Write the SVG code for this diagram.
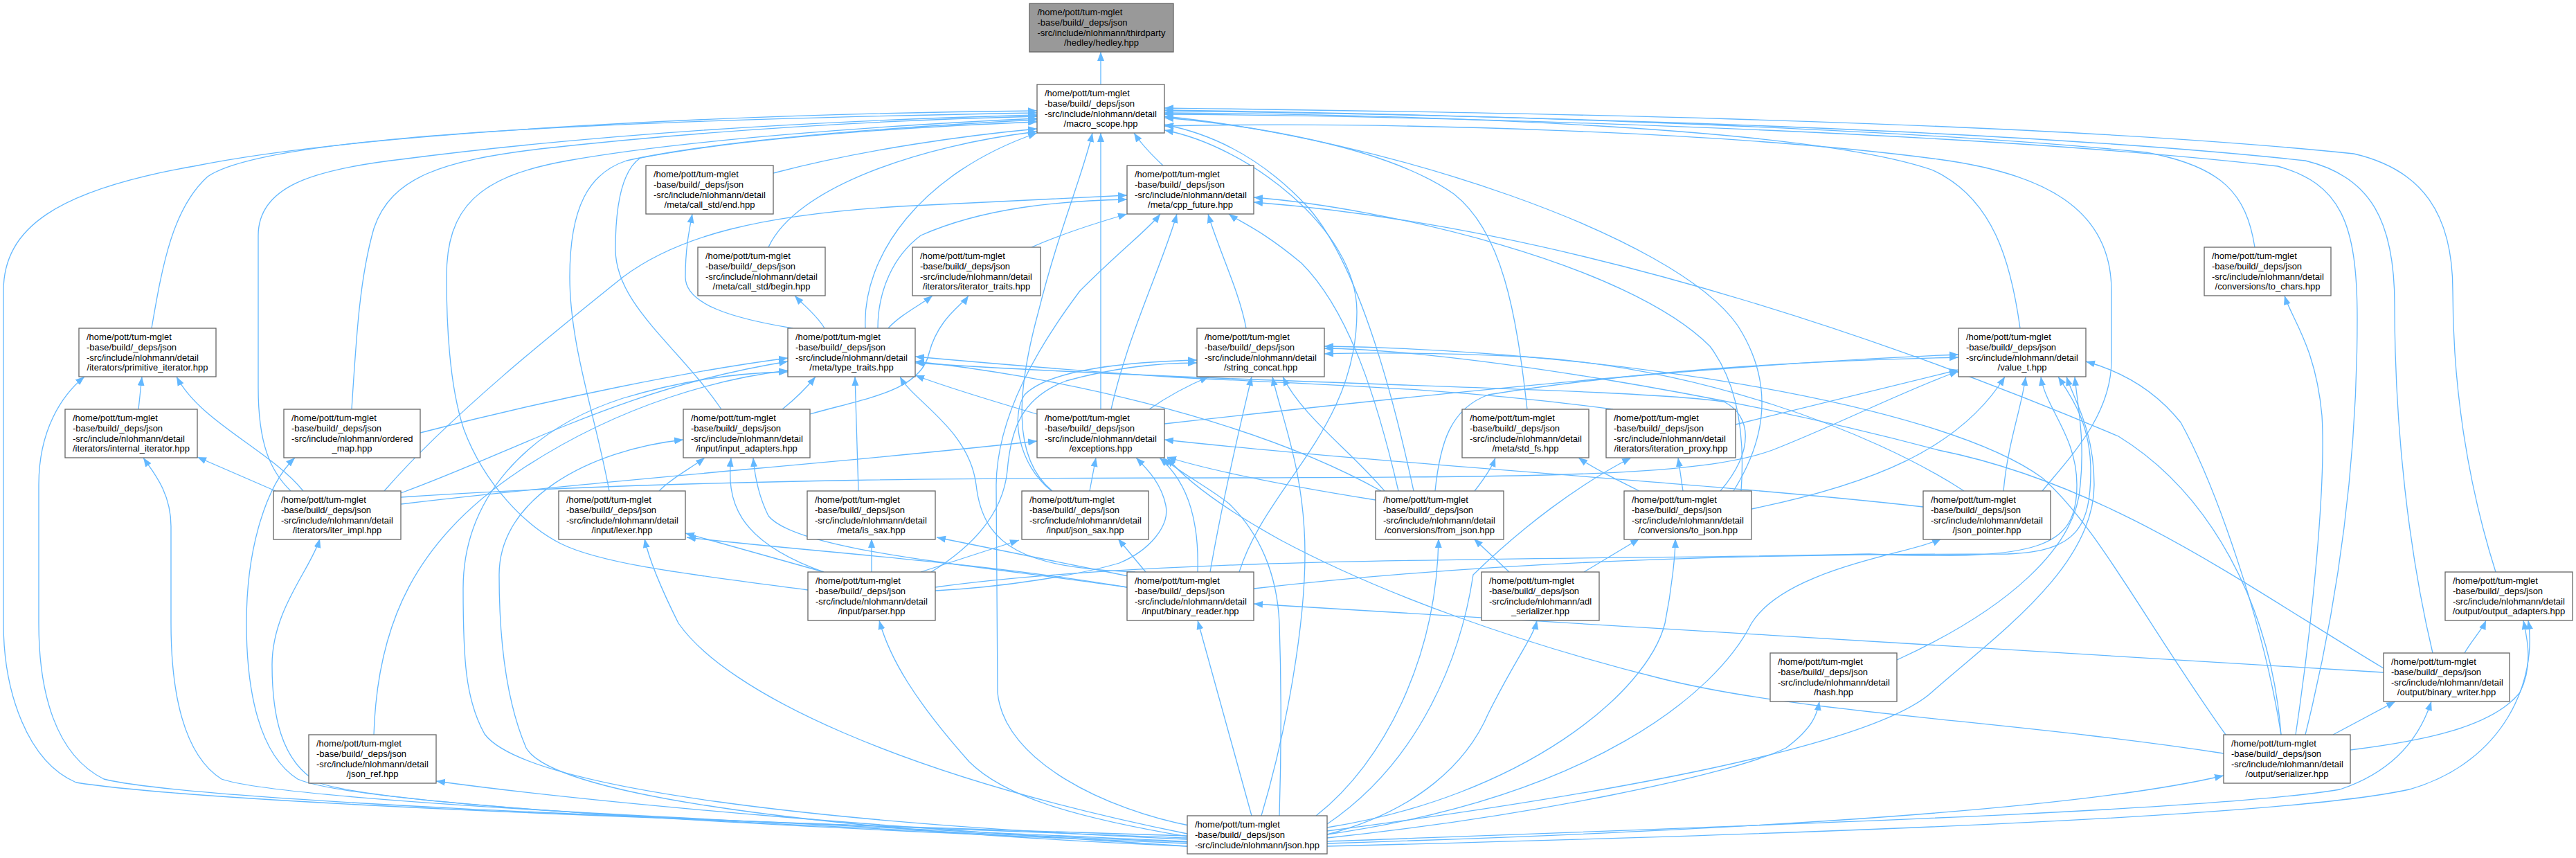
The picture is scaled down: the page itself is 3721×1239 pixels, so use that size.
<svg xmlns="http://www.w3.org/2000/svg" width="3721" height="1239" viewBox="0 0 3721 1239">
<style>
.b{fill:#fff;stroke:#666;stroke-width:1.3}
.g{fill:#999;stroke:#666;stroke-width:1.3}
.t{font-family:"Liberation Sans",Arial,Helvetica,sans-serif;font-size:13px;fill:#000}
.m{text-anchor:middle}
.e path{fill:none;stroke:#63b8ff;stroke-width:1.3;marker-end:url(#ah)}
</style>
<defs>
<marker id="ah" markerUnits="userSpaceOnUse" markerWidth="14" markerHeight="11" refX="13" refY="5.5" orient="auto"><path d="M0,0.5 L13,5.5 L0,10.5 z" fill="#63b8ff"/></marker>
</defs>
<rect width="3721" height="1239" fill="#fff"/>
<g id="edges" class="e">
<path d="M1590,122 L1590,75"/>
<path d="M1117,250 C1250,215 1400,195 1498,186"/>
<path d="M1680,239 C1665,225 1650,210 1638,192"/>
<path d="M1110,357 C1150,270 1330,210 1498,190"/>
<path d="M3257,357 C3245,280 3210,240 3100,220 C2700,180 2000,163 1682,159"/>
<path d="M219,474 C235,380 250,300 300,255 C380,200 800,175 1498,163"/>
<path d="M1250,474 C1245,370 1330,250 1498,192"/>
<path d="M2918,474 C2905,380 2880,285 2790,245 C2600,180 2000,165 1682,163"/>
<path d="M508,591 C515,480 520,400 540,330 C565,255 640,232 780,215 C1050,185 1300,173 1498,168"/>
<path d="M1042,591 C980,500 889,440 889,360 C889,290 900,245 925,228 C1100,195 1350,182 1498,176"/>
<path d="M1590,591 L1590,192"/>
<path d="M2206,591 C2190,450 2170,335 2100,280 C2000,210 1800,180 1682,170"/>
<path d="M420,709 C390,680 373,640 373,560 L373,340 C373,270 450,245 580,230 C850,195 1150,175 1498,166"/>
<path d="M880,709 C860,600 823,500 823,400 C823,300 850,250 905,232 C1050,200 1300,183 1498,173"/>
<path d="M1520,709 C1460,660 1470,560 1500,450 C1530,330 1565,250 1578,192"/>
<path d="M2042,709 C2010,560 1960,380 1890,300 C1830,235 1760,195 1682,180"/>
<path d="M2504,709 C2560,620 2555,540 2510,470 C2420,340 2000,200 1682,168"/>
<path d="M2950,709 C2990,660 3050,600 3050,520 L3050,420 C3050,300 2950,250 2800,230 C2500,190 2000,175 1682,182"/>
<path d="M1167,852 C1000,830 870,815 810,785 C760,760 700,700 670,620 C650,560 645,480 645,400 C645,300 690,255 820,232 C1000,200 1300,180 1498,171"/>
<path d="M1790,826 C1830,700 1960,620 1960,450 C1960,330 1800,210 1682,188"/>
<path d="M3605,826 C3565,700 3543,560 3543,420 C3543,310 3500,245 3400,222 C2900,170 2000,160 1682,156"/>
<path d="M3514,943 C3480,800 3459,620 3459,440 C3459,320 3425,255 3330,232 C2850,180 2000,164 1682,160"/>
<path d="M3330,1061 C3370,900 3405,700 3405,460 C3405,320 3380,265 3290,240 C2800,185 2000,167 1682,165"/>
<path d="M1715,1207 C1000,1185 300,1160 110,1130 C40,1100 5,1000 5,900 L5,420 C5,330 80,275 280,240 C500,195 1000,165 1498,160"/>
<path d="M1145,474 C1060,460 990,440 990,400 C990,360 995,335 1000,309"/>
<path d="M1490,357 C1540,335 1590,320 1628,309"/>
<path d="M1268,474 C1268,420 1290,370 1330,340 C1420,300 1530,290 1628,288"/>
<path d="M1800,474 C1790,420 1760,360 1745,309"/>
<path d="M555,709 C650,600 800,480 900,400 C980,340 1100,310 1300,298 C1450,290 1550,285 1628,282"/>
<path d="M1605,591 C1630,480 1680,380 1700,309"/>
<path d="M2020,709 C1990,580 1950,450 1880,380 C1820,330 1790,320 1775,309"/>
<path d="M2515,709 C2520,640 2515,560 2470,500 C2350,380 2000,300 1811,285"/>
<path d="M3295,1061 C3280,870 3190,710 3060,630 C2800,520 2300,330 1811,292"/>
<path d="M1722,1193 C1600,1170 1450,1100 1441,1000 L1439,700 C1440,600 1500,500 1560,420 C1620,360 1660,330 1676,309"/>
<path d="M1191,474 C1180,455 1160,440 1148,427"/>
<path d="M1283,474 C1300,455 1330,440 1347,427"/>
<path d="M1170,598 C1250,575 1330,565 1342,510 C1355,460 1390,440 1399,427"/>
<path d="M3316,1061 C3340,900 3360,700 3354,600 C3345,500 3310,460 3300,427"/>
<path d="M200,591 L205,544"/>
<path d="M438,709 C390,650 290,610 255,544"/>
<path d="M1715,1210 C1200,1190 300,1162 150,1125 C80,1090 56,1000 56,900 L56,700 C56,620 90,570 122,544"/>
<path d="M607,625 C800,575 1000,535 1138,517"/>
<path d="M1130,591 C1150,575 1165,560 1178,544"/>
<path d="M2330,591 C2100,560 1900,555 1700,545 C1550,535 1400,522 1322,515"/>
<path d="M579,712 C750,650 900,560 1138,522"/>
<path d="M1240,709 L1235,544"/>
<path d="M1995,709 C1800,600 1500,540 1322,522"/>
<path d="M2485,709 C2535,650 2530,600 2490,580 C2350,560 1800,555 1322,524"/>
<path d="M1640,826 C1480,820 1420,790 1410,700 C1400,620 1320,580 1300,544"/>
<path d="M540,1061 C545,900 600,780 750,680 C900,580 1050,545 1138,535"/>
<path d="M1715,1212 C1200,1190 760,1140 700,1060 C672,1010 669,950 669,850 C669,720 760,620 900,575 C1000,545 1080,538 1138,537"/>
<path d="M1498,598 C1430,578 1370,560 1322,542"/>
<path d="M1660,591 C1690,570 1720,555 1746,544"/>
<path d="M1748,826 C1770,700 1795,600 1808,544"/>
<path d="M2000,709 C1950,650 1880,600 1853,544"/>
<path d="M1519,709 C1470,670 1460,600 1480,570 C1520,530 1650,522 1729,520"/>
<path d="M1345,826 C1420,780 1450,730 1455,680 C1460,620 1475,575 1540,550 C1620,528 1690,524 1729,524"/>
<path d="M2837,709 C2700,620 2450,530 2200,515 C2050,508 1950,510 1913,511"/>
<path d="M3443,965 C3250,850 3050,700 2800,650 C2500,570 2100,505 1913,503"/>
<path d="M3215,1061 C3100,900 3030,760 2950,690 C2800,580 2300,505 1913,500"/>
<path d="M1822,1178 C1860,1050 1885,900 1885,800 C1885,680 1850,600 1838,544"/>
<path d="M1682,612 C2100,565 2500,525 2829,512"/>
<path d="M2073,709 C2080,640 2095,590 2150,570 C2400,530 2650,520 2829,516"/>
<path d="M2530,735 C2700,700 2830,650 2896,544"/>
<path d="M2507,613 L2829,534"/>
<path d="M579,718 C1000,690 1500,690 1800,690 C2200,688 2450,690 2560,650 C2650,615 2760,560 2829,536"/>
<path d="M2894,709 C2900,640 2920,590 2926,544"/>
<path d="M1351,848 C1700,800 2300,810 2700,800 C2950,810 3000,790 3000,700 C3000,630 2955,590 2948,544"/>
<path d="M1811,850 C2200,805 2600,800 2900,800 C3000,797 3020,760 3020,680 C3020,610 2990,570 2973,544"/>
<path d="M2740,953 C2900,880 3000,790 3005,700 C3012,630 3000,580 2997,544"/>
<path d="M3295,1061 C3270,900 3200,700 3150,610 C3110,560 3060,535 3013,522"/>
<path d="M1917,1200 C2300,1150 2700,1080 2790,1000 C2880,920 3025,820 3025,700 C3025,620 2995,575 2985,544"/>
<path d="M398,709 L285,660"/>
<path d="M1715,1215 C1200,1192 420,1160 320,1125 C265,1090 247,1000 247,900 L247,760 C247,710 220,680 207,661"/>
<path d="M1715,1218 C1200,1197 520,1165 430,1125 C375,1090 356,1000 356,900 C356,790 385,700 426,661"/>
<path d="M952,709 C970,690 1000,675 1018,661"/>
<path d="M1190,826 C1060,780 1050,720 1056,661"/>
<path d="M1628,848 C1400,815 1150,795 1110,745 C1095,715 1090,685 1088,661"/>
<path d="M1715,1222 C1200,1200 800,1150 760,1080 C730,1010 721,920 721,830 C721,720 850,650 987,635"/>
<path d="M579,728 C900,690 1200,670 1498,637"/>
<path d="M1574,709 L1583,661"/>
<path d="M1987,722 C1850,700 1750,680 1686,660"/>
<path d="M2778,732 C2500,700 2000,670 1682,635"/>
<path d="M1351,853 C1450,848 1560,830 1617,813 C1660,795 1690,760 1684,730 C1678,700 1660,680 1641,661"/>
<path d="M1730,826 C1732,760 1720,700 1675,661"/>
<path d="M3212,1088 C2900,1040 2600,1030 2400,980 C2200,930 2000,860 1850,780 C1760,730 1710,690 1686,661"/>
<path d="M1848,1178 C1852,1050 1850,960 1848,900 C1845,830 1820,770 1775,727 C1740,700 1700,680 1680,661"/>
<path d="M2130,709 C2145,690 2155,675 2160,661"/>
<path d="M2368,709 C2330,690 2300,675 2280,661"/>
<path d="M2431,709 L2424,661"/>
<path d="M1917,1190 C2050,1100 2110,950 2128,830 C2200,760 2280,700 2356,661"/>
<path d="M1190,826 L990,770"/>
<path d="M1628,848 C1400,810 1150,795 992,776"/>
<path d="M1715,1204 C1300,1120 1050,1000 980,900 C955,850 938,810 931,778"/>
<path d="M1259,826 L1259,778"/>
<path d="M1630,832 L1353,776"/>
<path d="M1330,826 L1472,780"/>
<path d="M1655,826 L1615,778"/>
<path d="M2180,826 L2129,778"/>
<path d="M2288,826 L2368,778"/>
<path d="M1901,1178 C2000,1100 2075,950 2078,778"/>
<path d="M1917,1195 C2200,1150 2380,1000 2405,900 C2415,850 2420,800 2420,778"/>
<path d="M1917,1205 C2300,1150 2480,1000 2530,900 C2580,820 2760,800 2804,778"/>
<path d="M1715,1222 C1300,1195 900,1165 630,1128"/>
<path d="M1715,1208 C1550,1180 1450,1150 1400,1100 C1320,1010 1285,950 1270,896"/>
<path d="M1808,1178 L1730,896"/>
<path d="M3443,971 C3000,940 2300,905 1811,872"/>
<path d="M1917,1205 C2050,1170 2120,1100 2150,1030 C2190,950 2215,920 2220,896"/>
<path d="M3560,943 C3570,925 3585,910 3591,896"/>
<path d="M3395,1083 C3500,1070 3600,1050 3640,1000 C3660,960 3650,920 3645,896"/>
<path d="M1917,1222 C2600,1205 3300,1180 3480,1140 C3620,1100 3665,980 3652,896"/>
<path d="M1917,1210 C2200,1180 2500,1120 2580,1080 C2620,1050 2625,1030 2628,1013"/>
<path d="M3370,1061 L3460,1013"/>
<path d="M1917,1215 C2600,1190 3200,1170 3380,1140 C3470,1110 3500,1050 3512,1013"/>
<path d="M1917,1218 C2500,1200 3000,1170 3212,1120"/>
<path d="M1715,1216 C1200,1195 560,1168 460,1130 C405,1100 393,1030 393,960 C393,880 450,820 462,778"/>
</g>
<g id="node_hedley"><rect class="g" x="1487" y="5" width="208" height="70"/><text class="t"><tspan x="1498.5" y="22">/home/pott/tum-mglet</tspan><tspan x="1498.5" y="36.8">-base/build/_deps/json</tspan><tspan x="1498.5" y="51.6">-src/include/nlohmann/thirdparty</tspan></text><text class="t m" x="1591" y="66.4">/hedley/hedley.hpp</text></g>
<g id="node_macro_scope"><rect class="b" x="1498" y="122" width="184" height="70"/><text class="t"><tspan x="1509" y="139">/home/pott/tum-mglet</tspan><tspan x="1509" y="153.8">-base/build/_deps/json</tspan><tspan x="1509" y="168.6">-src/include/nlohmann/detail</tspan></text><text class="t m" x="1590" y="183.4">/macro_scope.hpp</text></g>
<g id="node_call_std_end"><rect class="b" x="933" y="239" width="184" height="70"/><text class="t"><tspan x="944" y="256">/home/pott/tum-mglet</tspan><tspan x="944" y="270.8">-base/build/_deps/json</tspan><tspan x="944" y="285.6">-src/include/nlohmann/detail</tspan></text><text class="t m" x="1025" y="300.4">/meta/call_std/end.hpp</text></g>
<g id="node_cpp_future"><rect class="b" x="1628" y="239" width="183" height="70"/><text class="t"><tspan x="1639" y="256">/home/pott/tum-mglet</tspan><tspan x="1639" y="270.8">-base/build/_deps/json</tspan><tspan x="1639" y="285.6">-src/include/nlohmann/detail</tspan></text><text class="t m" x="1719.5" y="300.4">/meta/cpp_future.hpp</text></g>
<g id="node_call_std_begin"><rect class="b" x="1008" y="357" width="184" height="70"/><text class="t"><tspan x="1019" y="374">/home/pott/tum-mglet</tspan><tspan x="1019" y="388.8">-base/build/_deps/json</tspan><tspan x="1019" y="403.6">-src/include/nlohmann/detail</tspan></text><text class="t m" x="1100" y="418.4">/meta/call_std/begin.hpp</text></g>
<g id="node_iterator_traits"><rect class="b" x="1318" y="357" width="185" height="70"/><text class="t"><tspan x="1329" y="374">/home/pott/tum-mglet</tspan><tspan x="1329" y="388.8">-base/build/_deps/json</tspan><tspan x="1329" y="403.6">-src/include/nlohmann/detail</tspan></text><text class="t m" x="1410.5" y="418.4">/iterators/iterator_traits.hpp</text></g>
<g id="node_to_chars"><rect class="b" x="3184" y="357" width="183" height="70"/><text class="t"><tspan x="3195" y="374">/home/pott/tum-mglet</tspan><tspan x="3195" y="388.8">-base/build/_deps/json</tspan><tspan x="3195" y="403.6">-src/include/nlohmann/detail</tspan></text><text class="t m" x="3275.5" y="418.4">/conversions/to_chars.hpp</text></g>
<g id="node_primitive_iterator"><rect class="b" x="114" y="474" width="198" height="70"/><text class="t"><tspan x="125" y="491">/home/pott/tum-mglet</tspan><tspan x="125" y="505.8">-base/build/_deps/json</tspan><tspan x="125" y="520.6">-src/include/nlohmann/detail</tspan></text><text class="t m" x="213" y="535.4">/iterators/primitive_iterator.hpp</text></g>
<g id="node_type_traits"><rect class="b" x="1138" y="474" width="184" height="70"/><text class="t"><tspan x="1149" y="491">/home/pott/tum-mglet</tspan><tspan x="1149" y="505.8">-base/build/_deps/json</tspan><tspan x="1149" y="520.6">-src/include/nlohmann/detail</tspan></text><text class="t m" x="1230" y="535.4">/meta/type_traits.hpp</text></g>
<g id="node_string_concat"><rect class="b" x="1729" y="474" width="184" height="70"/><text class="t"><tspan x="1740" y="491">/home/pott/tum-mglet</tspan><tspan x="1740" y="505.8">-base/build/_deps/json</tspan><tspan x="1740" y="520.6">-src/include/nlohmann/detail</tspan></text><text class="t m" x="1821" y="535.4">/string_concat.hpp</text></g>
<g id="node_value_t"><rect class="b" x="2829" y="474" width="184" height="70"/><text class="t"><tspan x="2840" y="491">/home/pott/tum-mglet</tspan><tspan x="2840" y="505.8">-base/build/_deps/json</tspan><tspan x="2840" y="520.6">-src/include/nlohmann/detail</tspan></text><text class="t m" x="2921" y="535.4">/value_t.hpp</text></g>
<g id="node_internal_iterator"><rect class="b" x="94" y="591" width="191" height="70"/><text class="t"><tspan x="105" y="608">/home/pott/tum-mglet</tspan><tspan x="105" y="622.8">-base/build/_deps/json</tspan><tspan x="105" y="637.6">-src/include/nlohmann/detail</tspan></text><text class="t m" x="189.5" y="652.4">/iterators/internal_iterator.hpp</text></g>
<g id="node_ordered_map"><rect class="b" x="410" y="591" width="197" height="70"/><text class="t"><tspan x="421" y="608">/home/pott/tum-mglet</tspan><tspan x="421" y="622.8">-base/build/_deps/json</tspan><tspan x="421" y="637.6">-src/include/nlohmann/ordered</tspan></text><text class="t m" x="508.5" y="652.4">_map.hpp</text></g>
<g id="node_input_adapters"><rect class="b" x="987" y="591" width="183" height="70"/><text class="t"><tspan x="998" y="608">/home/pott/tum-mglet</tspan><tspan x="998" y="622.8">-base/build/_deps/json</tspan><tspan x="998" y="637.6">-src/include/nlohmann/detail</tspan></text><text class="t m" x="1078.5" y="652.4">/input/input_adapters.hpp</text></g>
<g id="node_exceptions"><rect class="b" x="1498" y="591" width="184" height="70"/><text class="t"><tspan x="1509" y="608">/home/pott/tum-mglet</tspan><tspan x="1509" y="622.8">-base/build/_deps/json</tspan><tspan x="1509" y="637.6">-src/include/nlohmann/detail</tspan></text><text class="t m" x="1590" y="652.4">/exceptions.hpp</text></g>
<g id="node_std_fs"><rect class="b" x="2112" y="591" width="183" height="70"/><text class="t"><tspan x="2123" y="608">/home/pott/tum-mglet</tspan><tspan x="2123" y="622.8">-base/build/_deps/json</tspan><tspan x="2123" y="637.6">-src/include/nlohmann/detail</tspan></text><text class="t m" x="2203.5" y="652.4">/meta/std_fs.hpp</text></g>
<g id="node_iteration_proxy"><rect class="b" x="2320" y="591" width="187" height="70"/><text class="t"><tspan x="2331" y="608">/home/pott/tum-mglet</tspan><tspan x="2331" y="622.8">-base/build/_deps/json</tspan><tspan x="2331" y="637.6">-src/include/nlohmann/detail</tspan></text><text class="t m" x="2413.5" y="652.4">/iterators/iteration_proxy.hpp</text></g>
<g id="node_iter_impl"><rect class="b" x="395" y="709" width="184" height="70"/><text class="t"><tspan x="406" y="726">/home/pott/tum-mglet</tspan><tspan x="406" y="740.8">-base/build/_deps/json</tspan><tspan x="406" y="755.6">-src/include/nlohmann/detail</tspan></text><text class="t m" x="487" y="770.4">/iterators/iter_impl.hpp</text></g>
<g id="node_lexer"><rect class="b" x="807" y="709" width="183" height="70"/><text class="t"><tspan x="818" y="726">/home/pott/tum-mglet</tspan><tspan x="818" y="740.8">-base/build/_deps/json</tspan><tspan x="818" y="755.6">-src/include/nlohmann/detail</tspan></text><text class="t m" x="898.5" y="770.4">/input/lexer.hpp</text></g>
<g id="node_is_sax"><rect class="b" x="1166" y="709" width="185" height="70"/><text class="t"><tspan x="1177" y="726">/home/pott/tum-mglet</tspan><tspan x="1177" y="740.8">-base/build/_deps/json</tspan><tspan x="1177" y="755.6">-src/include/nlohmann/detail</tspan></text><text class="t m" x="1258.5" y="770.4">/meta/is_sax.hpp</text></g>
<g id="node_json_sax"><rect class="b" x="1476" y="709" width="183" height="70"/><text class="t"><tspan x="1487" y="726">/home/pott/tum-mglet</tspan><tspan x="1487" y="740.8">-base/build/_deps/json</tspan><tspan x="1487" y="755.6">-src/include/nlohmann/detail</tspan></text><text class="t m" x="1567.5" y="770.4">/input/json_sax.hpp</text></g>
<g id="node_from_json"><rect class="b" x="1987" y="709" width="185" height="70"/><text class="t"><tspan x="1998" y="726">/home/pott/tum-mglet</tspan><tspan x="1998" y="740.8">-base/build/_deps/json</tspan><tspan x="1998" y="755.6">-src/include/nlohmann/detail</tspan></text><text class="t m" x="2079.5" y="770.4">/conversions/from_json.hpp</text></g>
<g id="node_to_json"><rect class="b" x="2346" y="709" width="184" height="70"/><text class="t"><tspan x="2357" y="726">/home/pott/tum-mglet</tspan><tspan x="2357" y="740.8">-base/build/_deps/json</tspan><tspan x="2357" y="755.6">-src/include/nlohmann/detail</tspan></text><text class="t m" x="2438" y="770.4">/conversions/to_json.hpp</text></g>
<g id="node_json_pointer"><rect class="b" x="2778" y="709" width="184" height="70"/><text class="t"><tspan x="2789" y="726">/home/pott/tum-mglet</tspan><tspan x="2789" y="740.8">-base/build/_deps/json</tspan><tspan x="2789" y="755.6">-src/include/nlohmann/detail</tspan></text><text class="t m" x="2870" y="770.4">/json_pointer.hpp</text></g>
<g id="node_parser"><rect class="b" x="1167" y="826" width="184" height="70"/><text class="t"><tspan x="1178" y="843">/home/pott/tum-mglet</tspan><tspan x="1178" y="857.8">-base/build/_deps/json</tspan><tspan x="1178" y="872.6">-src/include/nlohmann/detail</tspan></text><text class="t m" x="1259" y="887.4">/input/parser.hpp</text></g>
<g id="node_binary_reader"><rect class="b" x="1628" y="826" width="183" height="70"/><text class="t"><tspan x="1639" y="843">/home/pott/tum-mglet</tspan><tspan x="1639" y="857.8">-base/build/_deps/json</tspan><tspan x="1639" y="872.6">-src/include/nlohmann/detail</tspan></text><text class="t m" x="1719.5" y="887.4">/input/binary_reader.hpp</text></g>
<g id="node_adl_serializer"><rect class="b" x="2140" y="826" width="170" height="70"/><text class="t"><tspan x="2151" y="843">/home/pott/tum-mglet</tspan><tspan x="2151" y="857.8">-base/build/_deps/json</tspan><tspan x="2151" y="872.6">-src/include/nlohmann/adl</tspan></text><text class="t m" x="2225" y="887.4">_serializer.hpp</text></g>
<g id="node_output_adapters"><rect class="b" x="3532" y="826" width="184" height="70"/><text class="t"><tspan x="3543" y="843">/home/pott/tum-mglet</tspan><tspan x="3543" y="857.8">-base/build/_deps/json</tspan><tspan x="3543" y="872.6">-src/include/nlohmann/detail</tspan></text><text class="t m" x="3624" y="887.4">/output/output_adapters.hpp</text></g>
<g id="node_hash"><rect class="b" x="2557" y="943" width="183" height="70"/><text class="t"><tspan x="2568" y="960">/home/pott/tum-mglet</tspan><tspan x="2568" y="974.8">-base/build/_deps/json</tspan><tspan x="2568" y="989.6">-src/include/nlohmann/detail</tspan></text><text class="t m" x="2648.5" y="1004.4">/hash.hpp</text></g>
<g id="node_binary_writer"><rect class="b" x="3443" y="943" width="182" height="70"/><text class="t"><tspan x="3454" y="960">/home/pott/tum-mglet</tspan><tspan x="3454" y="974.8">-base/build/_deps/json</tspan><tspan x="3454" y="989.6">-src/include/nlohmann/detail</tspan></text><text class="t m" x="3534" y="1004.4">/output/binary_writer.hpp</text></g>
<g id="node_json_ref"><rect class="b" x="446" y="1061" width="184" height="70"/><text class="t"><tspan x="457" y="1078">/home/pott/tum-mglet</tspan><tspan x="457" y="1092.8">-base/build/_deps/json</tspan><tspan x="457" y="1107.6">-src/include/nlohmann/detail</tspan></text><text class="t m" x="538" y="1122.4">/json_ref.hpp</text></g>
<g id="node_serializer"><rect class="b" x="3212" y="1061" width="183" height="70"/><text class="t"><tspan x="3223" y="1078">/home/pott/tum-mglet</tspan><tspan x="3223" y="1092.8">-base/build/_deps/json</tspan><tspan x="3223" y="1107.6">-src/include/nlohmann/detail</tspan></text><text class="t m" x="3303.5" y="1122.4">/output/serializer.hpp</text></g>
<g id="node_json"><rect class="b" x="1715" y="1178" width="202" height="55"/><text class="t"><tspan x="1726" y="1195">/home/pott/tum-mglet</tspan><tspan x="1726" y="1209.8">-base/build/_deps/json</tspan></text><text class="t m" x="1816" y="1224.6">-src/include/nlohmann/json.hpp</text></g>
</svg>
